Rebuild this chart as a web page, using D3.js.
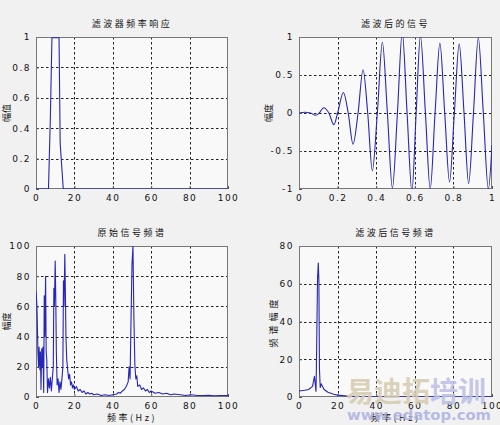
<!DOCTYPE html>
<html><head><meta charset="utf-8">
<script src="https://cdn.jsdelivr.net/npm/d3@7"></script>
<style>
html,body{margin:0;padding:0;background:#f1f1f1;}
svg{display:block;}
text{font-family:"DejaVu Sans","Noto Sans CJK SC",sans-serif;}
.cjk{font-family:"Noto Sans CJK SC",sans-serif;}
</style></head>
<body>
<script>
// ---------- data ----------
const filterFreq = [0, 6.5, 7.5, 8.3, 12, 12.6, 14.2, 100];
const filterAmp  = [0, 0,   0.48, 0.995, 0.995, 0.3,  0,    0];

const sigT = [0,0.03,0.06,0.086,0.105,0.128,0.155,0.181,0.2,0.23,0.255,0.28,0.306,0.332,0.356,0.38,0.406,0.432,0.458,0.484,0.51,0.535,0.56,0.585,0.607,0.629,0.655,0.68,0.705,0.73,0.755,0.78,0.805,0.83,0.855,0.879,0.904,0.929,0.955,0.981,1.0];
const sigY = [0,0.01,0.0,-0.03,0.0,0.07,0.0,-0.155,0.0,0.27,0.0,-0.41,0.0,0.57,0.0,-0.76,0.0,0.93,0.0,-0.99,0.0,1.06,0.0,-1.03,0.0,1.02,0.0,-1.0,0.0,0.92,0.0,-0.91,0.0,0.91,0.0,-0.93,0.0,0.99,0.0,-1.0,-0.42];

const origFreq = [0,0.5,1,1.3,1.6,2,2.3,2.6,3,3.3,3.6,4,4.3,4.6,5,5.3,5.6,6,6.5,7,7.5,8,8.5,9,9.3,9.6,10,10.3,10.6,11,11.5,12,12.5,13,13.5,14,14.3,14.6,15,15.3,15.6,16,16.5,17,17.5,18,18.5,19,19.5,20,21,22,23,24,25,26,27,28,29,30,32,34,36,38,40,42,43,44,45,46,47,48,48.5,49,49.5,50,50.5,51,51.5,52,52.5,53,54,55,56,57,58,59,60,62,64,66,68,70,72,75,78,81,84,87,90,93,96,100];
const origAmp  = [70,60,30,20,33,18,30,5,32,20,33,3,67,40,80,30,25,3,12,6,13,4,12,20,72,60,90,65,30,8,12,3,10,5,12,20,77,60,94.5,70,40,25,18,12,15,8,10,6,8,5,7,4,5,3,4,2,3,2,2.5,1.5,2,1,1.5,1,1.5,2,3,2.5,4,5,7,10,20,12,52,88,100,52,21,12,14,7,8,5,6,4,5,3,4,2.5,3,2,2.5,1.5,2,1.5,1,1.5,1,1,1.2,0.8,1,1];

const filtFreq = [0,3,5,7,8,8.8,9,9.6,10,10.3,10.6,11,11.5,12,13,15,18,20,25,30,40,60,80,100];
const filtAmp  = [3.2,3.6,4,5.6,11,3,14.7,62.7,71,62,14.7,5,7,6,4,2.5,1.5,1,0.5,0.3,0.15,0.1,0.05,0.05];

const p1XTicks = [0,20,40,60,80,100], p1YTicks = [0,0.2,0.4,0.6,0.8,1];
const p2XTicks = [0,0.2,0.4,0.6,0.8,1], p2YTicks = [-1,-0.5,0,0.5,1];
const p3XTicks = [0,20,40,60,80,100], p3YTicks = [0,20,40,60,80,100];
const p4XTicks = [0,20,40,60,80,100], p4YTicks = [0,20,40,60,80];

const titles = ["滤波器频率响应","滤波后的信号","原始信号频谱","滤波后信号频谱"];
const yLabels = ["幅值","幅度","幅度","频谱幅度"];
const xLabels = ["","","频率(Hz)","频率(Hz)"];

// ---------- drawing ----------
const W = 500, H = 425;
const svg = d3.select("body").append("svg").attr("width", W).attr("height", H);
const lineColor = "#2626b8";

function fmt(v){ return String(+v.toFixed(2)); }

function panel(i, box, xs, ys, xDom, yDom, xT, yT){
  const x = d3.scaleLinear().domain(xDom).range([box.l, box.r]);
  const y = d3.scaleLinear().domain(yDom).range([box.b, box.t]);
  const g = svg.append("g");
  g.append("rect").attr("x", box.l).attr("y", box.t).attr("width", box.r-box.l).attr("height", box.b-box.t)
    .attr("fill", "#f9f9f9");
  // grid
  const grid = g.append("g").attr("stroke", "#222").attr("stroke-width", 1).attr("stroke-dasharray", "2.5,2.5");
  grid.selectAll(".vg").data(xT.slice(1, -1)).join("line")
    .attr("x1", d => Math.round(x(d))+0.5).attr("x2", d => Math.round(x(d))+0.5).attr("y1", box.t).attr("y2", box.b);
  grid.selectAll(".hg").data(yT.slice(1, -1)).join("line")
    .attr("y1", d => Math.round(y(d))+0.5).attr("y2", d => Math.round(y(d))+0.5).attr("x1", box.l).attr("x2", box.r);
  // axes
  const ax = d3.axisBottom(x).tickValues(xT).tickSize(-3).tickPadding(6).tickFormat(fmt);
  const ay = d3.axisLeft(y).tickValues(yT).tickSize(-3).tickPadding(5).tickFormat(fmt);
  const gx = g.append("g").attr("transform", `translate(0,${box.b})`).call(ax);
  const gy = g.append("g").attr("transform", `translate(${box.l},0)`).call(ay);
  [gx, gy].forEach(a => {
    a.select(".domain").remove();
    a.selectAll("line").attr("stroke", "#555");
    a.selectAll("text").attr("font-size", 9).attr("fill", "#111").attr("letter-spacing", "1.5px");
  });
  // frame
  g.append("rect").attr("x", box.l+0.5).attr("y", box.t+0.5).attr("width", box.r-box.l-1).attr("height", box.b-box.t-1)
    .attr("fill", "none").attr("stroke", "#777").attr("stroke-width", 1);
  // data line (on top of frame)
  const clipId = "clip"+i;
  svg.append("clipPath").attr("id", clipId).append("rect")
    .attr("x", box.l).attr("y", box.t).attr("width", box.r-box.l).attr("height", box.b-box.t);
  const pts = xs.map((v, k) => [v, ys[k]]);
  const line = d3.line().x(d => x(d[0])).y(d => y(d[1]));
  if (i === 1) line.curve(d3.curveMonotoneX);
  g.append("path").attr("clip-path", `url(#${clipId})`).datum(pts).attr("d", line)
    .attr("fill", "none").attr("stroke", lineColor).attr("stroke-width", 1.1).attr("stroke-linejoin", "round");
  // texts
  const cx = (box.l+box.r)/2;
  g.append("text").attr("class","cjk").attr("x", cx).attr("y", box.t-10).attr("text-anchor","middle")
    .attr("font-size", 9).attr("letter-spacing","2.5px").attr("fill","#111").text(titles[i]);
  g.append("text").attr("class","cjk").attr("transform", `translate(${box.yl},${(box.t+box.b)/2}) rotate(-90)`)
    .attr("text-anchor","middle").attr("font-size", 9).attr("letter-spacing", i===3 ? "4px" : "0px")
    .attr("fill","#111").text(yLabels[i]);
  if (xLabels[i]) g.append("text").attr("class","cjk").attr("x", cx).attr("y", box.b+24).attr("text-anchor","middle")
    .attr("font-size", 9).attr("letter-spacing","2.5px").attr("fill","#111").text(xLabels[i]);
}

panel(0, {l:36, r:228, t:37, b:189, yl:10}, filterFreq, filterAmp, [0,100], [0,1], p1XTicks, p1YTicks);
panel(1, {l:299, r:492, t:37, b:189, yl:272}, sigT, sigY, [0,1], [-1,1], p2XTicks, p2YTicks);
panel(2, {l:36, r:228, t:246, b:397, yl:10}, origFreq, origAmp, [0,100], [0,100], p3XTicks, p3YTicks);
panel(3, {l:299, r:492, t:246, b:397, yl:277}, filtFreq, filtAmp, [0,100], [0,80], p4XTicks, p4YTicks);

// watermark
const wm = svg.append("g");
wm.append("text").attr("x", 346).attr("y", 402).attr("font-size", 28).attr("font-weight", "bold")
  .attr("class","cjk").attr("fill", "#d5ccb2").attr("fill-opacity", 0.9).text("易迪拓");
wm.append("text").attr("x", 430).attr("y", 402).attr("font-size", 28).attr("font-weight", "bold")
  .attr("class","cjk").attr("fill", "#bcc0e6").attr("fill-opacity", 0.9).text("培训");
wm.append("text").attr("x", 347).attr("y", 420).attr("font-size", 14).attr("font-weight", "bold")
  .attr("fill", "#aeb4e2").attr("fill-opacity", 0.9).attr("textLength", 144).attr("lengthAdjust","spacingAndGlyphs").text("www.edatop.com");
</script>
</body></html>
